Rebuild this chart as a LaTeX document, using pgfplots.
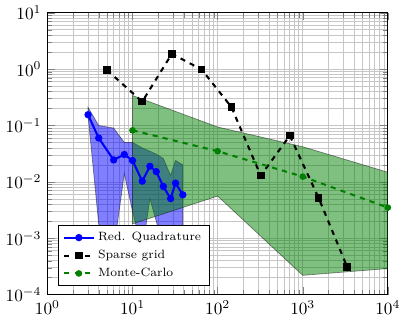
\documentclass[border=0pt]{standalone}
\usepackage{pgfplots}
\pgfplotsset{compat=1.18}
\begin{document}
\begin{tikzpicture}
\begin{loglogaxis}[
  scale only axis,
  width=198pt, height=164pt,
  xmin=1, xmax=1e4, ymin=1e-4, ymax=10,
  xtick={1,10,100,1000,10000},
  ytick={1e-4,1e-3,1e-2,1e-1,1,10},
  grid=both,
  major grid style={gray!45, line width=0.4pt},
  minor grid style={gray!45, line width=0.4pt},
  legend style={at={(0.03,0.03)}, anchor=south west, font=\scriptsize, legend cell align=left},
  legend cell align=left,
]
% Reduced quadrature band
\addplot[forget plot, fill=blue, fill opacity=0.5, draw=black, draw opacity=0.45, line width=0.4pt]
coordinates {
 (3,0.21) (4,0.10) (6,0.09) (8,0.05) (10,0.05) (13,0.04) (16,0.035) (19,0.031) (23,0.026) (28,0.013) (32,0.024) (39,0.02)
 (39,0.0008) (32,0.0008) (28,0.0004) (23,0.0007) (19,0.002) (16,0.005) (13,0.0006) (10,0.003) (8,0.014) (6,0.0006) (4,0.0018) (3,0.15)
} -- cycle;
% Monte-Carlo band
\addplot[forget plot, fill=green!50!black, fill opacity=0.5, draw=black, draw opacity=0.45, line width=0.4pt]
coordinates {
 (10,0.34) (100,0.094) (1000,0.042) (10000,0.0148)
 (10000,0.00029) (1000,0.00022) (100,0.0056) (10,0.0018)
} -- cycle;
\addplot[blue, line width=1.2pt, mark=*, mark size=1.5pt]
coordinates {
 (3,0.155) (4,0.060) (6,0.0245) (8,0.0306) (10,0.0239) (13,0.0103) (16,0.0189) (19,0.0152) (23,0.0083) (28,0.00505) (32,0.0095) (39,0.0059)
};
\addlegendentry{Red. Quadrature}
\addplot[black, dashed, line width=1.2pt, mark=square*, mark size=1.6pt, mark options={solid}]
coordinates {
 (5,0.96) (13,0.265) (29,1.87) (65,0.98) (145,0.213) (321,0.0129) (705,0.066) (1537,0.0052) (3329,0.00031)
};
\addlegendentry{Sparse grid}
\addplot[green!50!black, dashed, line width=1.2pt, mark=*, mark size=1.3pt, mark options={solid}]
coordinates {
 (10,0.082) (100,0.035) (1000,0.0124) (10000,0.0035)
};
\addlegendentry{Monte-Carlo}
\end{loglogaxis}
\end{tikzpicture}
\end{document}
